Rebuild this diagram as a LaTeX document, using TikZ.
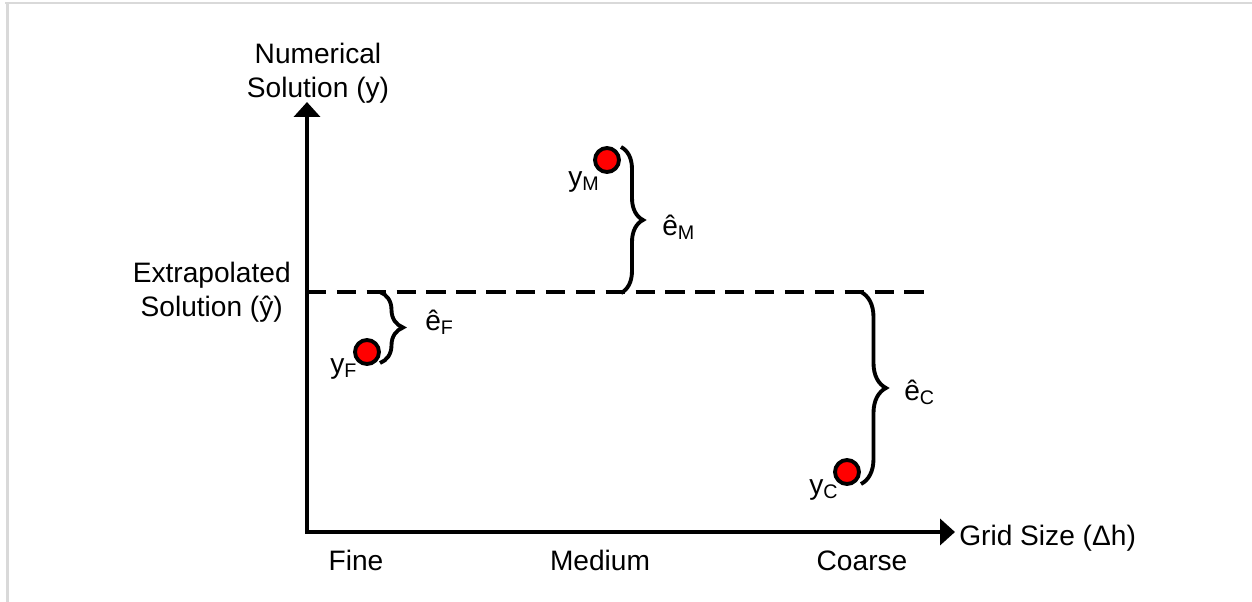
\documentclass[tikz,border=0pt]{standalone}
\usepackage{fontspec}
\setmainfont{Liberation Sans}
\usetikzlibrary{positioning,arrows.meta,decorations.pathreplacing}

\begin{document}
\begin{tikzpicture}[x=0.02cm,y=-0.02cm,
  lbl/.style={font=\fontsize{16}{19.5}\selectfont,align=center,inner sep=0pt},
  dot/.style={circle,draw=black,fill=red,line width=2.2pt,minimum size=4.8mm,inner sep=0pt},
  brc/.style={decorate,line width=2.2pt,decoration={brace,amplitude=#1}},
  axis/.style={line width=2.7pt,{Triangle[length=3mm,width=5.2mm]}-{Triangle[length=3mm,width=5.2mm]}},
  frame/.style={draw=gray!30,line width=1.7pt}
]
\useasboundingbox (0,0) rectangle (1252,602);
\draw[frame] (5,3) -- (1252,3);
\draw[frame] (7.3,2) -- (7.3,602);

\coordinate (ytip) at (307,102);
\coordinate (xtip) at (955,532);
\draw[axis] (ytip) |- (xtip);
\node[lbl,anchor=south] (ylab) at (318,104) {Numerical\\Solution (y)};
\node[lbl,anchor=base west] (xlab) at (959,545) {Grid Size (Δh)};
\node[lbl,anchor=base] (fine) at (356,570) {Fine};
\node[lbl,anchor=base] (medium) at (600,570) {Medium};
\node[lbl,anchor=base] (coarse) at (862,570) {Coarse};

\coordinate (ext0) at (307,292);
\coordinate (ext1) at (932,292);
\draw[line width=2.1pt,dash pattern=on 11pt off 6pt] (ext0) -- (ext1);
\node[lbl,left=0.32cm of ext0] (extlab) {Extrapolated\\Solution (ŷ)};

\node[dot] (ptF) at (367,352) {};
\node[dot] (ptM) at (607,160) {};
\node[dot] (ptC) at (847,472) {};
\node[lbl,anchor=base west] (yF) at (330,373) {y\textsubscript{F}};
\node[lbl,anchor=base west] (yM) at (568,186) {y\textsubscript{M}};
\node[lbl,anchor=base west] (yC) at (809,494) {y\textsubscript{C}};

\coordinate (bF1) at (380,292);
\coordinate (bF2) at (380,363);
\coordinate (bM1) at (621,147);
\coordinate (bM2) at (621,293);
\coordinate (bC1) at (861,292);
\coordinate (bC2) at (861,484);
\draw[brc=4.6mm] (bF1) -- (bF2);
\draw[brc=4.4mm] (bM1) -- (bM2);
\draw[brc=5mm] (bC1) -- (bC2);
\node[lbl,anchor=base west] (eF) at (425,330) {ê\textsubscript{F}};
\node[lbl,anchor=base west] (eM) at (662,235) {ê\textsubscript{M}};
\node[lbl,anchor=base west] (eC) at (904,400) {ê\textsubscript{C}};
\end{tikzpicture}
\end{document}
